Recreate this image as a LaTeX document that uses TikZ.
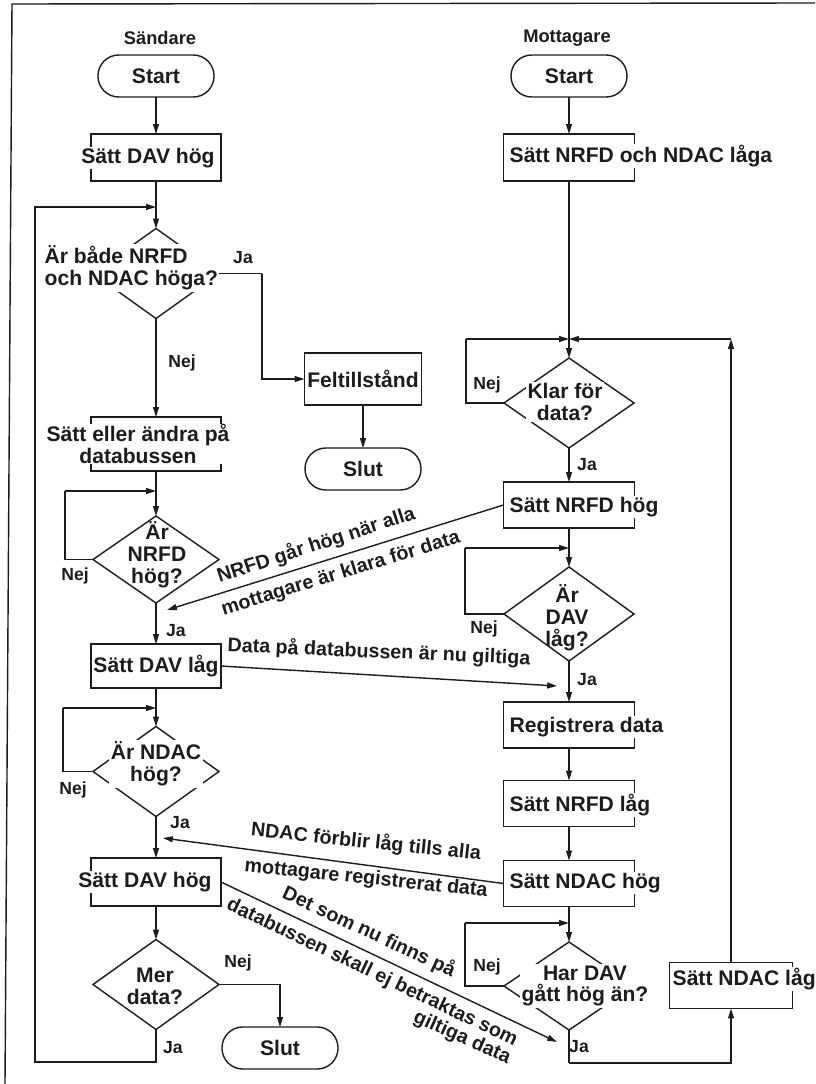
\documentclass[tikz,border=0pt]{standalone}
\usepackage{fontspec}
\setmainfont{Liberation Sans}
\usetikzlibrary{arrows.meta,shapes.geometric}
\definecolor{ink}{RGB}{28,28,28}
\newcommand\fcfontbig{\bfseries\fontsize{15}{15.5}\selectfont}
\newcommand\fcfontnote{\bfseries\fontsize{14}{15}\selectfont}
\newcommand\fcfontsmall{\bfseries\fontsize{12.5}{14}\selectfont}
\tikzset{
  fcline/.style={ink,line width=1pt},
  fcarr/.style={fcline,-{Triangle[length=7pt,width=4.2pt]}},
  fcbox/.style={fcline,draw,rectangle,minimum width=3.25cm,minimum height=1.15cm,inner sep=0pt,outer sep=0pt},
  fcdec/.style={fcline,draw,diamond,minimum width=3.15cm,minimum height=2.25cm,inner sep=0pt,outer sep=0pt},
  fcterm/.style={fcline,draw,rectangle,rounded corners=0.52cm,minimum width=2.9cm,minimum height=1.05cm,inner sep=0pt,outer sep=0pt,font=\fcfontbig},
  fctxt/.style={ink,font=\fcfontbig,inner sep=1pt,align=center},
  fctxtw/.style={fctxt,fill=white},
  fclab/.style={ink,font=\fcfontsmall,inner sep=0pt},
  fcnote/.style={ink,font=\fcfontnote,inner sep=0pt},
}
\begin{document}
\begin{tikzpicture}[x=0.025cm,y=-0.025cm]
  \useasboundingbox (0,0) rectangle (815,1084);
  \draw[fcline] (5,1084) -- (12,4) -- (815,3);

  % Sändare
  \node[fclab,font=\bfseries\fontsize{13}{15}\selectfont] (stitle) at (160,38) {Sändare};
  \node[fcterm] (sstart) at (156,76) {Start};
  \node[fcbox,minimum height=1.175cm] (sdavhigh) at (156,157.5) {};
  \node[fcdec] (sbothq) at (156,273.5) {};
  \node[fcbox,minimum height=1.35cm] (sbus) at (156,444) {};
  \node[fcdec,minimum height=2.175cm] (snrfdq) at (156,559.5) {};
  \node[fcbox,minimum height=1.1cm,font=\fcfontbig] (sdavlow) at (156,666) {Sätt DAV låg};
  \node[fcdec] (sndacq) at (156,771.5) {};
  \node[fcbox,minimum height=1.2cm] (sdavhigh2) at (156,882) {};
  \node[fcdec] (smoreq) at (156,984.5) {};
  \node[fcterm] (send) at (280,1048) {Slut};
  \node[fcbox,minimum width=2.925cm,minimum height=1.3cm,font=\fcfontbig] (serr) at (363,379) {Feltillstånd};
  \node[fcterm] (serrend) at (363,469) {Slut};

  \node[fctxtw] (sdavhigh-t) at (148,158) {Sätt DAV hög};
  \node[fctxtw,anchor=west,align=left] (sbothq-t) at (43,268) {Är både NRFD\\och NDAC höga?};
  \node[fctxtw,inner ysep=0pt] (sbus-t) at (138,444) {Sätt eller ändra på\\databussen};
  \node[fctxt] (snrfdq-t) at (157,555) {Är\\NRFD\\hög?};
  \node[fctxtw] (sndacq-t) at (156,764) {Är NDAC\\hög?};
  \node[fctxtw] (sdavhigh2-t) at (145,882) {Sätt DAV hög};
  \node[fctxt] (smoreq-t) at (155,986) {Mer\\data?};

  % Mottagare
  \node[fclab,font=\bfseries\fontsize{13}{15}\selectfont] (rtitle) at (567,38) {Mottagare};
  \node[fcterm] (rstart) at (569,76) {Start};
  \node[fcbox,minimum width=3.275cm,minimum height=1.175cm] (rinit) at (569,157.5) {};
  \node[fcdec,minimum width=3.25cm] (rreadyq) at (569,403) {};
  \node[fcbox,minimum width=3.275cm] (rnrfdhigh) at (569,505) {};
  \node[fcdec,minimum width=3.25cm,minimum height=2.35cm] (rdavlowq) at (569,614) {};
  \node[fcbox,minimum width=3.275cm] (rstore) at (569,725) {};
  \node[fcbox,minimum width=3.275cm] (rnrfdlow) at (569,803.5) {};
  \node[fcbox,minimum width=3.275cm] (rndachigh) at (569,883.5) {};
  \node[fcdec,minimum width=3.25cm,minimum height=2.2cm] (rdavhighq) at (569,986) {};
  \node[fcbox,minimum width=3.075cm] (rndaclow) at (731,985.5) {};

  \node[fctxtw,anchor=west] (rinit-t) at (508,156) {Sätt NRFD och NDAC låga};
  \node[fctxtw] (rreadyq-t) at (565,402) {Klar för\\data?};
  \node[fctxtw,anchor=west] (rnrfdhigh-t) at (508,507) {Sätt NRFD hög};
  \node[fctxt] (rdavlowq-t) at (567,618) {Är\\DAV\\låg?};
  \node[fctxtw,anchor=west] (rstore-t) at (508,727) {Registrera data};
  \node[fctxtw,anchor=west] (rnrfdlow-t) at (508,805) {Sätt NRFD låg};
  \node[fctxtw,anchor=west] (rndachigh-t) at (508,883) {Sätt NDAC hög};
  \node[fctxtw] (rdavhighq-t) at (585,986) {Har DAV\\gått hög än?};
  \node[fctxtw,anchor=west] (rndaclow-t) at (671,979) {Sätt NDAC låg};

  % Ja / Nej
  \node[fclab] (l1) at (243,258) {Ja};
  \node[fclab] (l2) at (182,363) {Nej};
  \node[fclab] (l3) at (75,576) {Nej};
  \node[fclab] (l4) at (176,631) {Ja};
  \node[fclab] (l5) at (73,790) {Nej};
  \node[fclab] (l6) at (180,823) {Ja};
  \node[fclab] (l7) at (238,963) {Nej};
  \node[fclab] (l8) at (173,1048) {Ja};
  \node[fclab] (l9) at (487,385) {Nej};
  \node[fclab] (l10) at (587,465) {Ja};
  \node[fclab] (l11) at (484,629) {Nej};
  \node[fclab] (l12) at (587,680) {Ja};
  \node[fclab] (l13) at (487,967) {Nej};
  \node[fclab] (l14) at (579,1047) {Ja};

  % loose ends
  \coordinate (sj1) at (156,207);
  \coordinate (slb) at (35,1062);
  \coordinate (sfj) at (262,273.5);
  \coordinate (sl2) at (65,491);
  \coordinate (sj2) at (156,491);
  \coordinate (sl3) at (63,708);
  \coordinate (sj3) at (156,708);
  \coordinate (rj) at (569,339);
  \coordinate (rl5) at (466,339);
  \coordinate (rr) at (731,339);
  \coordinate (rl6) at (465,548);
  \coordinate (rj6) at (569,548);
  \coordinate (rl7) at (465,923);
  \coordinate (rj7) at (569,923);
  \coordinate (rdb) at (569,1063);
  \coordinate (nrfdend) at (167,610);
  \coordinate (dataend) at (557,686);
  \coordinate (ndacend) at (163,838);
  \coordinate (validend) at (557,1042);

  % connectors, Sändare
  \draw[fcarr] (sstart) -- (sdavhigh);
  \draw[fcarr] (sdavhigh) -- (sbothq.north);
  \draw[fcarr] (smoreq.south) |- (slb) |- (sj1);
  \draw[fcline] (sbothq.east) -- (sfj);
  \draw[fcarr] (sfj) |- (serr.west);
  \draw[fcarr] (serr) -- (serrend);
  \draw[fcarr] (sbothq.south) -- (sbus.north);
  \draw[fcarr] (sbus.south) -- (snrfdq.north);
  \draw[fcline] (snrfdq.west) -| (sl2);
  \draw[fcarr] (sl2) -- (sj2);
  \draw[fcarr] (snrfdq.south) -- (sdavlow.north);
  \draw[fcarr] (sdavlow.south) -- (sndacq.north);
  \draw[fcline] (sndacq.west) -| (sl3);
  \draw[fcarr] (sl3) -- (sj3);
  \draw[fcarr] (sndacq.south) -- (sdavhigh2.north);
  \draw[fcarr] (sdavhigh2.south) -- (smoreq.north);
  \draw[fcarr] (smoreq.east) -| (send.north);

  % connectors, Mottagare
  \draw[fcarr] (rstart) -- (rinit);
  \draw[fcline] (rinit.south) -- (rj);
  \draw[fcarr] (rj) -- (rreadyq.north);
  \draw[fcline] (rreadyq.west) -| (rl5);
  \draw[fcarr] (rl5) -- (rj);
  \draw[fcarr] (rndaclow.north) -- (rr);
  \draw[fcarr] (rr) -- (rj);
  \draw[fcarr] (rreadyq.south) -- (rnrfdhigh.north);
  \draw[fcarr] (rnrfdhigh.south) -- (rdavlowq.north);
  \draw[fcline] (rdavlowq.west) -| (rl6);
  \draw[fcarr] (rl6) -- (rj6);
  \draw[fcarr] (rdavlowq.south) -- (rstore.north);
  \draw[fcarr] (rstore) -- (rnrfdlow);
  \draw[fcarr] (rnrfdlow) -- (rndachigh);
  \draw[fcarr] (rndachigh.south) -- (rdavhighq.north);
  \draw[fcline] (rdavhighq.west) -| (rl7);
  \draw[fcarr] (rl7) -- (rj7);
  \draw[fcline] (rdavhighq.south) -- (rdb);
  \draw[fcarr] (rdb) -| (rndaclow.south);

  % between the two
  \draw[fcarr] (rnrfdhigh.west) -- (nrfdend);
  \draw[fcarr] (sdavlow.east) -- (dataend);
  \draw[fcarr] (rndachigh.west) -- (ndacend);
  \draw[fcarr] (sdavhigh2.east) -- (validend);
  \node[fcnote,rotate=18] (nrfd-a) at (316,545) {NRFD går hög när alla};
  \node[fcnote,rotate=17] (nrfd-b) at (341,574) {mottagare är klara för data};
  \node[fcnote,rotate=-2.5] (data-a) at (379,652) {Data på databussen är nu giltiga};
  \node[fcnote,rotate=-6] (ndac-a) at (366,842) {NDAC förblir låg tills alla};
  \node[fcnote,rotate=-6] (ndac-b) at (366,879) {mottagare registrerat data};
  \node[fcnote,rotate=-25] (valid-a) at (369,932) {Det som nu finns på};
  \node[fcnote,rotate=-25.5] (valid-b) at (372,973) {databussen skall ej betraktas som};
  \node[fcnote,rotate=-24] (valid-c) at (462,1038) {giltiga data};
\end{tikzpicture}
\end{document}
